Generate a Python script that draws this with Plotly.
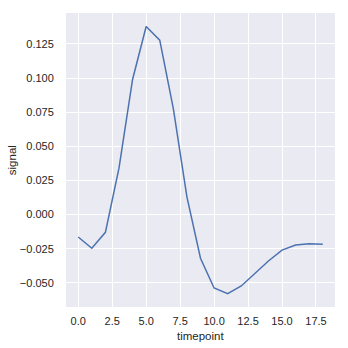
import plotly.graph_objects as go

timepoint = list(range(19))
signal = [-0.0164, -0.0247, -0.0130, 0.0340, 0.0990, 0.1378, 0.1278, 0.0777,
          0.0130, -0.0320, -0.0538, -0.0579, -0.0523, -0.0435, -0.0340,
          -0.0260, -0.0223, -0.0213, -0.0218]
xticks = [0, 2.5, 5, 7.5, 10, 12.5, 15, 17.5]
xtick_labels = ["0.0", "2.5", "5.0", "7.5", "10.0", "12.5", "15.0", "17.5"]
yticks = [-0.05, -0.025, 0, 0.025, 0.05, 0.075, 0.1, 0.125]
ytick_labels = ["\u22120.050", "\u22120.025", "0.000", "0.025", "0.050", "0.075", "0.100", "0.125"]

font = "Liberation Sans, Arial, DejaVu Sans, sans-serif"

fig = go.Figure(go.Scatter(x=timepoint, y=signal, mode="lines",
                           line=dict(color="#4c72b0", width=1.5)))

fig.update_layout(
    width=348, height=348,
    margin=dict(l=66, r=13, t=13, b=41),
    paper_bgcolor="white", plot_bgcolor="#eaeaf2",
    showlegend=False,
    font=dict(family=font, size=11, color="#262626"),
)
fig.update_xaxes(
    range=[-0.9, 18.9], tickvals=xticks, ticktext=xtick_labels, automargin=False,
    showgrid=True, gridcolor="white", gridwidth=1, zeroline=False,
    showline=False, ticks="outside", ticklen=4, tickcolor="rgba(0,0,0,0)",
)
fig.update_yaxes(
    range=[-0.0677, 0.1477], tickvals=yticks, ticktext=ytick_labels, automargin=False,
    showgrid=True, gridcolor="white", gridwidth=1, zeroline=False,
    showline=False, ticks="outside", ticklen=9, tickcolor="rgba(0,0,0,0)",
)
fig.add_annotation(text="timepoint", xref="paper", yref="paper", x=0.5, y=-0.1,
                   showarrow=False, font=dict(size=11.5, color="#262626"),
                   xanchor="center", yanchor="middle")
fig.add_annotation(text="signal", xref="paper", yref="paper", x=-0.2, y=0.5,
                   showarrow=False, textangle=-90, font=dict(size=11.5, color="#262626"),
                   xanchor="center", yanchor="middle")

fig.write_html("out.html")
